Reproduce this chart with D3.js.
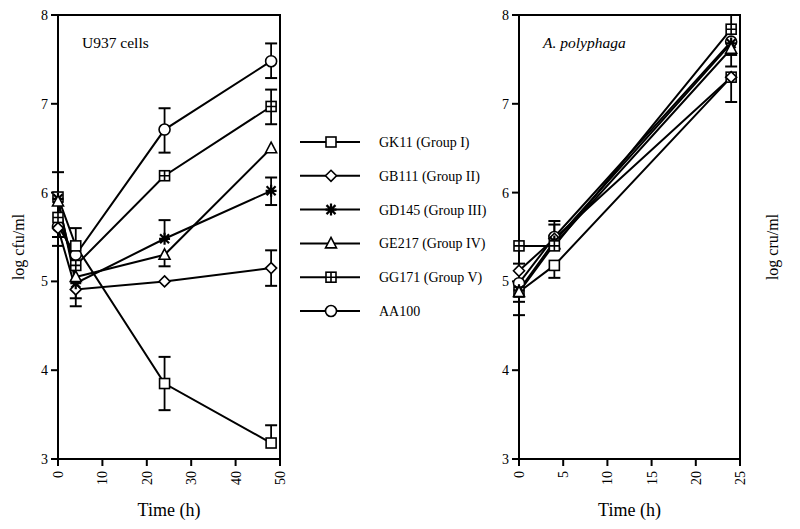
<!DOCTYPE html>
<html><head><meta charset="utf-8">
<script src="https://cdn.jsdelivr.net/npm/d3@7"></script>
<style>body{margin:0;background:#fff}svg{display:block}text{font-family:"Liberation Serif","Times New Roman",serif;fill:#000}</style>
</head><body><svg id="c" width="800" height="529"></svg>
<script>
const seriesNames = ["GK11 (Group I)","GB111 (Group II)","GD145 (Group III)","GE217 (Group IV)","GG171 (Group V)","AA100"];
const markerTypes = ["square","diamond","star","triangle","squareplus","circle"];
const leftTimes = [0,4,24,48];
const rightTimes = [0,4,24];
const leftValues = [
  [5.95,5.40,3.85,3.18],
  [5.60,4.91,5.00,5.15],
  [5.93,4.98,5.48,6.02],
  [5.90,5.05,5.30,6.50],
  [5.72,5.18,6.19,6.97],
  [5.62,5.30,6.71,7.48]
];
const leftErrHi = [
  [null,5.60,4.15,3.38],
  [null,null,null,5.35],
  [6.23,null,5.69,6.17],
  [null,null,null,null],
  [null,null,null,7.16],
  [null,null,6.95,7.68]
];
const leftErrLo = [
  [null,null,3.55,null],
  [5.40,4.72,null,4.95],
  [null,4.81,null,5.86],
  [null,null,5.17,null],
  [5.50,null,null,6.77],
  [null,null,6.45,7.29]
];
const rightValues = [
  [4.88,5.18,7.30],
  [5.12,5.48,7.30],
  [4.90,5.45,7.68],
  [4.88,5.42,7.62],
  [5.40,5.40,7.84],
  [4.98,5.50,7.70]
];
const rightErrHi = [
  [null,null,null],
  [5.20,5.68,null],
  [null,5.64,7.55],
  [null,null,null],
  [null,null,8.00],
  [null,null,null]
];
const rightErrLo = [
  [4.62,5.04,7.02],
  [null,null,null],
  [4.77,null,7.42],
  [null,null,null],
  [null,null,null],
  [null,null,null]
];
const yTicks = [3,4,5,6,7,8];
const leftXTicks = [0,10,20,30,40,50];
const rightXTicks = [0,5,10,15,20,25];

const svg = d3.select("#c");
const y = d3.scaleLinear().domain([3,8]).range([459,15]);

function marker(g, type, cx, cy){
  const s = g.append("g").attr("transform",`translate(${cx},${cy})`)
    .attr("fill","#fff").attr("stroke","#000").attr("stroke-width",1.6);
  if(type==="square"){ s.append("rect").attr("x",-5).attr("y",-5).attr("width",10).attr("height",10); }
  else if(type==="squareplus"){ s.append("rect").attr("x",-5).attr("y",-5).attr("width",10).attr("height",10);
    s.append("path").attr("d","M0,-5V5M-5,0H5"); }
  else if(type==="diamond"){ s.append("path").attr("d","M0,-5.5L5.5,0L0,5.5L-5.5,0Z"); }
  else if(type==="triangle"){ s.append("path").attr("d","M0,-6L5.5,4.5L-5.5,4.5Z"); }
  else if(type==="circle"){ s.append("circle").attr("r",5.5); }
  else if(type==="star"){ s.attr("stroke-width",2.2).append("path").attr("d","M0,-6V6M-5.5,0H5.5M-4.5,-4.5L4.5,4.5M-4.5,4.5L4.5,-4.5"); }
}

function panel(x, times, values, errHi, errLo, xTicks, label, italic, yLabel, yLabelX){
  const g = svg.append("g");
  const [x0,x1] = x.range();
  g.append("path").attr("d",`M${x0},${y(3)}V${y(8)}H${x1}V${y(3)}Z`)
    .attr("fill","none").attr("stroke","#000").attr("stroke-width",2);
  yTicks.forEach(t=>{
    g.append("line").attr("x1",x0-7).attr("x2",x0).attr("y1",y(t)).attr("y2",y(t)).attr("stroke","#000").attr("stroke-width",2);
    g.append("text").attr("x",x0-10).attr("y",y(t)).attr("dy","0.35em").attr("text-anchor","end").attr("font-size",14).text(t);
  });
  xTicks.forEach(t=>{
    g.append("line").attr("x1",x(t)).attr("x2",x(t)).attr("y1",y(3)).attr("y2",y(3)+7).attr("stroke","#000").attr("stroke-width",2);
    g.append("text").attr("transform",`translate(${x(t)},${y(3)+12}) rotate(-90)`).attr("dy","0.35em")
      .attr("text-anchor","end").attr("font-size",14).text(t);
  });
  g.append("text").attr("x",(x0+x1)/2).attr("y",516).attr("text-anchor","middle").attr("font-size",18).text("Time (h)");
  g.append("text").attr("transform",`translate(${yLabelX},247) rotate(-90)`).attr("dy","0.35em").attr("text-anchor","middle").attr("font-size",16).text(yLabel);
  g.append("text").attr("x",x0+24).attr("y",48).attr("font-size",15.5).attr("font-style",italic?"italic":"normal").text(label);
  const line = d3.line().x((d,i)=>x(times[i])).y(d=>y(d));
  values.forEach(v=>{
    g.append("path").attr("d",line(v)).attr("fill","none").attr("stroke","#000").attr("stroke-width",2);
  });
  values.forEach((v,si)=>{
    v.forEach((val,i)=>{
      [errHi[si][i], errLo[si][i]].forEach(e=>{
        if(e==null) return;
        const cx = x(times[i]);
        g.append("line").attr("x1",cx).attr("x2",cx).attr("y1",y(val)).attr("y2",y(e)).attr("stroke","#000").attr("stroke-width",1.8);
        g.append("line").attr("x1",cx-6).attr("x2",cx+6).attr("y1",y(e)).attr("y2",y(e)).attr("stroke","#000").attr("stroke-width",2);
      });
    });
  });
  // draw markers with the circle series underneath the others
  const order = [5,0,1,2,3,4];
  order.forEach(si=>{
    values[si].forEach((val,i)=> marker(g, markerTypes[si], x(times[i]), y(val)));
  });
}

const xl = d3.scaleLinear().domain([0,50]).range([58,280]);
const xr = d3.scaleLinear().domain([0,25]).range([519,740]);
panel(xl, leftTimes, leftValues, leftErrHi, leftErrLo, leftXTicks, "U937 cells", false, "log cfu/ml", 18);
panel(xr, rightTimes, rightValues, rightErrHi, rightErrLo, rightXTicks, "A. polyphaga", true, "log cru/ml", 772);

const lg = svg.append("g");
seriesNames.forEach((n,i)=>{
  const yy = 142 + i*33.8;
  lg.append("line").attr("x1",300).attr("x2",360).attr("y1",yy).attr("y2",yy).attr("stroke","#000").attr("stroke-width",2);
  marker(lg, markerTypes[i], 331, yy);
  lg.append("text").attr("x",379).attr("y",yy).attr("dy","0.35em").attr("font-size",14).text(n);
});
</script></body></html>
